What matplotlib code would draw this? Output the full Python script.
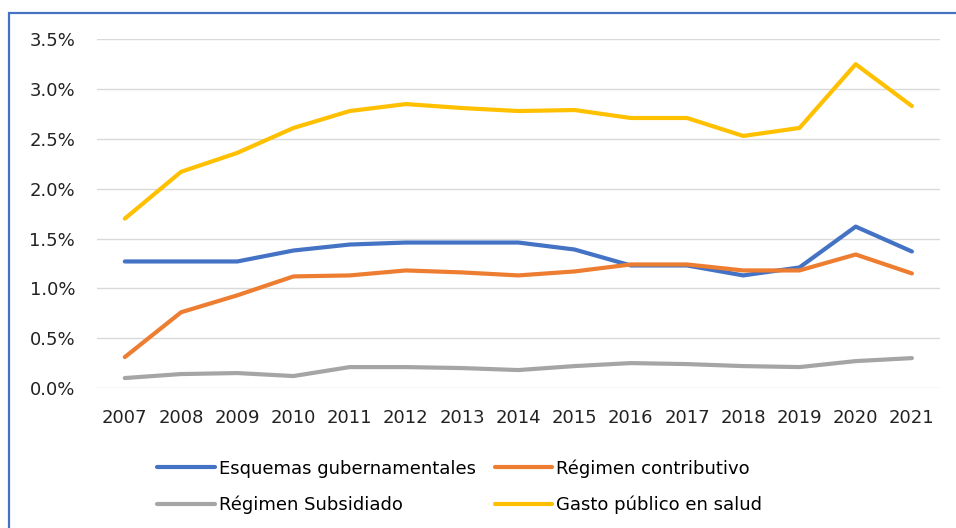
import matplotlib.pyplot as plt
from matplotlib.patches import Rectangle
from matplotlib.ticker import FuncFormatter

years = [str(y) for y in range(2007, 2022)]

esquemas = [1.27, 1.27, 1.27, 1.38, 1.44, 1.46, 1.46, 1.46, 1.39, 1.23, 1.23, 1.13, 1.21, 1.62, 1.37]
contributivo = [0.31, 0.76, 0.93, 1.12, 1.13, 1.18, 1.16, 1.13, 1.17, 1.24, 1.24, 1.18, 1.18, 1.34, 1.15]
subsidiado = [0.10, 0.14, 0.15, 0.12, 0.21, 0.21, 0.20, 0.18, 0.22, 0.25, 0.24, 0.22, 0.21, 0.27, 0.30]
gasto_publico = [1.70, 2.17, 2.36, 2.61, 2.78, 2.85, 2.81, 2.78, 2.79, 2.71, 2.71, 2.53, 2.61, 3.25, 2.83]

series = [
    ("Esquemas gubernamentales", esquemas, "#4472C4"),
    ("Régimen contributivo", contributivo, "#ED7D31"),
    ("Régimen Subsidiado", subsidiado, "#A5A5A5"),
    ("Gasto público en salud", gasto_publico, "#FFC000"),
]

plt.rcParams['font.family'] = ['DejaVu Sans']

fig = plt.figure(figsize=(9.56, 5.28), dpi=100)
ax = fig.add_axes([96.7 / 956, 1 - 388 / 528, (940 - 96.7) / 956, (388 - 39.3) / 528])

x = list(range(len(years)))
lines = []
for label, values, color in series:
    ln, = ax.plot(x, values, color=color, lw=3.0, label=label, solid_capstyle='round')
    lines.append(ln)

ax.set_xlim(-0.5, len(years) - 0.5)
ax.set_ylim(0, 3.5)
ax.set_yticks([0, 0.5, 1.0, 1.5, 2.0, 2.5, 3.0, 3.5])
ax.yaxis.set_major_formatter(FuncFormatter(lambda v, p: f"{v:.1f}%"))
ax.set_xticks(x)
ax.set_xticklabels(years)
ax.grid(axis='y', color='#D9D9D9', lw=1.0)
ax.set_axisbelow(True)
for s in ax.spines.values():
    s.set_visible(False)
ax.tick_params(length=0, labelsize=13, colors='#222222')
ax.tick_params(axis='y', pad=15.5)
ax.tick_params(axis='x', pad=15)

# legend filled by columns, so reorder to read row by row
order = [0, 2, 1, 3]
fig.legend([lines[i] for i in order], [series[i][0] for i in order],
           loc='upper left', bbox_to_anchor=(150 / 956, 1 - 452 / 528), ncol=2,
           frameon=False, fontsize=13, handlelength=3.2, handletextpad=0.2,
           columnspacing=1.05, labelspacing=1.0, borderaxespad=0)

fig.add_artist(Rectangle((9 / 956, -0.1), 1.2, 1.1 - 13 / 528, transform=fig.transFigure,
                         fill=False, edgecolor='#4472C4', lw=1.6))

fig.savefig("out.png", dpi=100)
